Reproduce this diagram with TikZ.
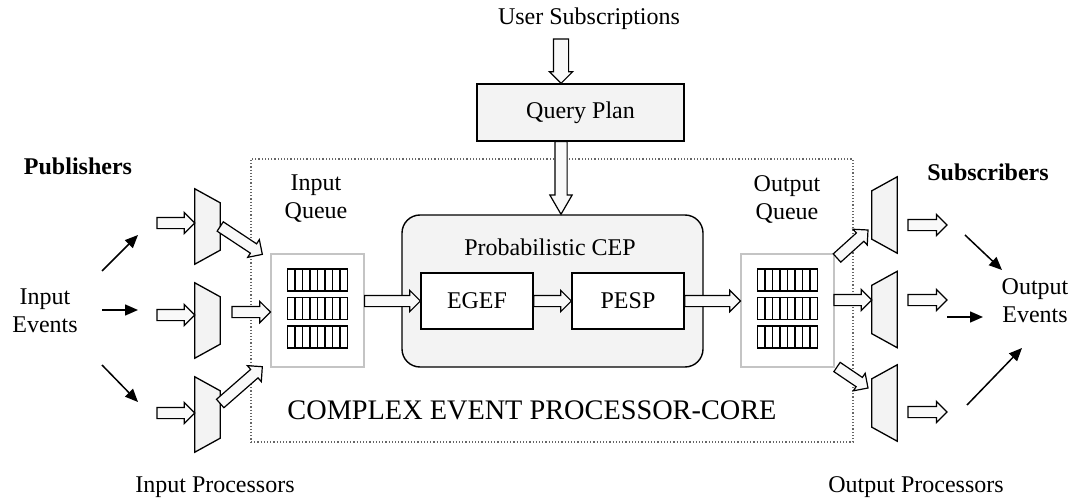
\documentclass[tikz,border=0pt]{standalone}
\usepackage{fontspec}
\setmainfont{Liberation Serif}
\usetikzlibrary{calc,shapes.arrows,arrows.meta}

\definecolor{panel}{HTML}{F3F3F3}
\definecolor{qline}{HTML}{C4C4C4}

\tikzset{
  txt/.style={inner sep=0pt, align=center, font=\fontsize{24}{28}\selectfont},
  hdr/.style={txt, font=\fontsize{24}{28}\selectfont\bfseries},
  box/.style={draw, line width=1.3pt, inner sep=0pt, txt},
  fat/.style={single arrow, draw=black, fill=gray!5, line width=1.2pt, inner sep=5pt,
    minimum width=20pt, single arrow head extend=5pt, single arrow tip angle=90, outer sep=0pt},
  evarrow/.style={line width=1.5pt, -{Triangle[length=13pt,width=11pt]}},
  bar/.style={line width=1.1pt},
  proc/.style={draw, line width=1.3pt, fill=panel},
}

% block arrow from #2 to #3
\newcommand{\fatarrow}[3][]{%
  \path let \p1=($(#3)-(#2)$), \n1={atan2(\y1,\x1)}, \n2={veclen(\x1,\y1)} in
    node[fat,#1,anchor=tail,rotate=\n1,minimum height=\n2] at (#2) {};}

% three queue bars inside a queue node
\newcommand{\qbars}[1]{%
  \foreach \r in {-30.5,-2,26.5}{%
    \draw[bar] ($(#1.center)+(-30,\r-11)$) rectangle ($(#1.center)+(30,\r+11)$);
    \foreach \c in {1,...,7}
      \draw[bar] ($(#1.center)+(-30+7.5*\c,\r-11)$) -- ++(0,22);
  }}

\begin{document}
\begin{tikzpicture}[x=1pt,y=-1pt]
\useasboundingbox (0,0) rectangle (1077,500);

% core frame
\node[draw=black!60, dotted, line width=1.2pt, minimum width=602pt, minimum height=283pt] (core) at (552,300.5) {};
\node[txt, font=\fontsize{28.3}{30}\selectfont] (corelbl) at (532,410) {COMPLEX EVENT PROCESSOR-CORE};

% query plan
\node[txt] (us) at (589,19) {User Subscriptions};
\node[box, fill=panel, minimum width=207pt, minimum height=57pt] (qp) at (580.5,112.5) {Query Plan};

% probabilistic CEP
\node[draw, line width=1.4pt, fill=panel, rounded corners=18pt, minimum width=301pt, minimum height=152pt] (cep) at (552.5,291) {};
\node[txt] (ceplbl) at (550,247) {Probabilistic CEP};
\node[box, fill=white, minimum width=112pt, minimum height=56pt] (egef) at (477,301) {EGEF};
\node[box, fill=white, minimum width=112pt, minimum height=56pt] (pesp) at (628,301) {PESP};

% queues
\node[draw=qline, line width=1.2pt, fill=white, minimum width=93pt, minimum height=113pt] (iq) at (317.5,310.5) {};
\node[draw=qline, line width=1.2pt, fill=white, minimum width=93pt, minimum height=113pt] (oq) at (787.5,310.5) {};
\qbars{iq}
\qbars{oq}
\node[txt] (iqlbl) at (316,199) {Input\\Queue};
\node[txt] (oqlbl) at (787,199) {Output\\Queue};

% input and output processors
\foreach \i/\y in {1/226.5,2/320.5,3/414.5}{
  \node[minimum width=25pt, minimum height=75pt, inner sep=0pt] (ip\i) at (207.5,\y) {};
  \draw[proc] (ip\i.north west) -- ([yshift=-14pt]ip\i.north east) -- ([yshift=14pt]ip\i.south east) -- (ip\i.south west) -- cycle;
}
\foreach \i/\y in {1/215,2/309.5,3/403}{
  \node[minimum width=25pt, minimum height=76pt, inner sep=0pt] (op\i) at (884.5,\y) {};
  \draw[proc] ([yshift=-14pt]op\i.north west) -- (op\i.north east) -- (op\i.south east) -- ([yshift=14pt]op\i.south west) -- cycle;
}
\node[txt] (iplbl) at (215,487) {Input Processors};
\node[txt] (oplbl) at (916,487) {Output Processors};

% side labels
\node[hdr] (pub) at (78,166) {Publishers};
\node[txt] (ie) at (45,311) {Input\\Events};
\node[hdr] (sub) at (988,172) {Subscribers};
\node[txt] (oe) at (1035,301) {Output\\Events};

% free ends
\coordinate (usb) at (561,39);
\coordinate (qpb) at ($(qp.south)+(-19.5,0)$);
\coordinate (ia1) at (157,223);
\coordinate (ia2) at (157,315);
\coordinate (ia3) at (157,413);
\coordinate (ib1) at (ip1.east);
\coordinate (ib2) at (232,312);
\coordinate (ib3) at ($(ip3.east)+(0,-11)$);
\coordinate (iqa) at ($(iq.north west)+(-8,1)$);
\coordinate (iqc) at ($(iq.south west)+(-8,-1)$);
\coordinate (ob1) at (837,258);
\coordinate (ob2) at (834,300);
\coordinate (ob3) at (837,367);
\coordinate (opa) at (868,230);
\coordinate (opc) at (868,388);
\foreach \i/\y in {1/225,2/300,3/412}{
  \coordinate (oa\i) at (908,\y);
  \coordinate (oz\i) at (947,\y);
}
\coordinate (ie1) at (102,271); \coordinate (ie1t) at (138,235);
\coordinate (ie2) at (102,310); \coordinate (ie2t) at (138,310);
\coordinate (ie3) at (102,365); \coordinate (ie3t) at (138,402);
\coordinate (oe1) at (965,235); \coordinate (oe1t) at (1002,270);
\coordinate (oe2) at (947,317); \coordinate (oe2t) at (983,317);
\coordinate (oe3) at (967,405); \coordinate (oe3t) at (1022,348);

% block arrows
\fatarrow[inner sep=7pt, minimum width=22pt, single arrow head extend=4pt]{usb}{usb |- qp.north}
\fatarrow[inner sep=5.5pt, minimum width=21pt, single arrow head extend=5pt, single arrow tip angle=60]{qpb}{qpb |- cep.north}
\foreach \i in {1,2,3}{
  \fatarrow{ia\i}{ia\i -| ip\i.west}
}
\fatarrow{ib1}{iqa}
\fatarrow{ib2}{ib2 -| iq.west}
\fatarrow{ib3}{iqc}
\fatarrow{iq.east |- egef.west}{egef.west}
\fatarrow{egef.east}{pesp.west}
\fatarrow{pesp.east}{oq.west |- pesp.east}
\fatarrow{ob1}{opa}
\fatarrow{ob2}{ob2 -| op2.west}
\fatarrow{ob3}{opc}
\foreach \i in {1,2,3}{
  \fatarrow{oa\i}{oz\i}
}

% event arrows
\foreach \a in {ie1,ie2,ie3,oe1,oe2,oe3}
  \draw[evarrow] (\a) -- (\a t);

\end{tikzpicture}
\end{document}
